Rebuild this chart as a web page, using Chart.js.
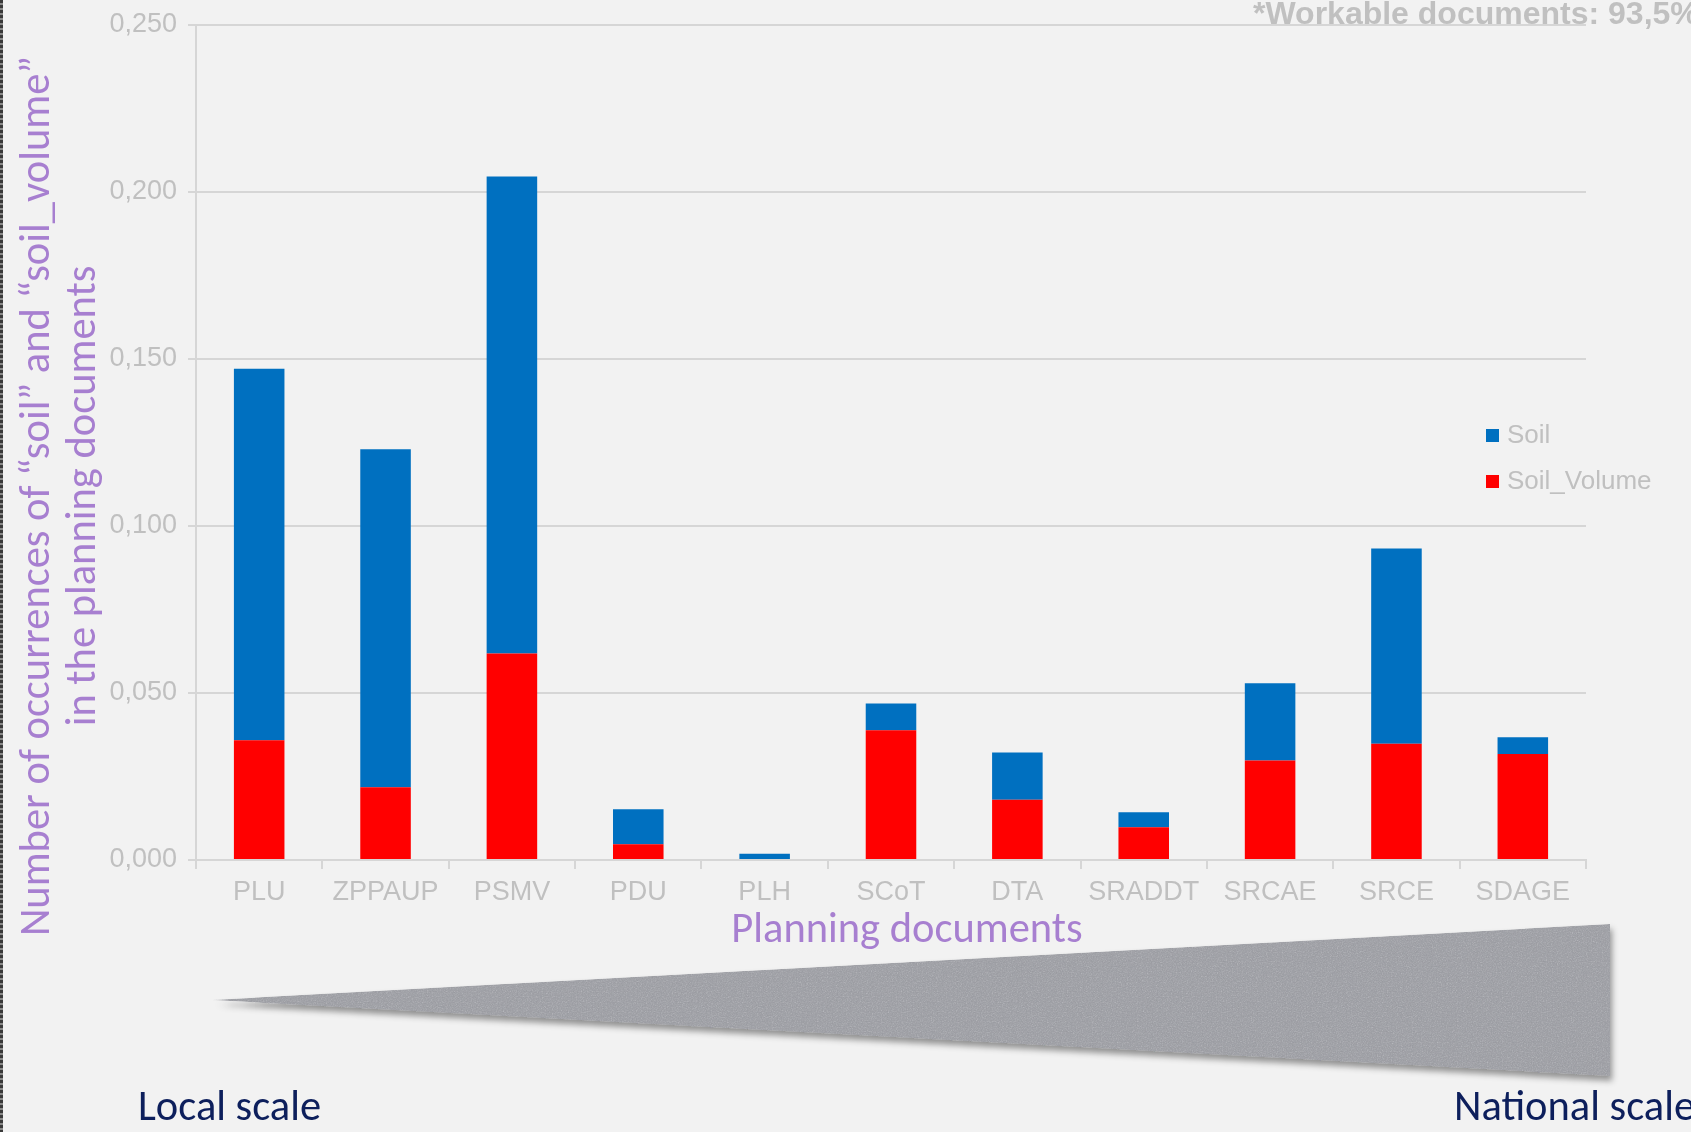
<!DOCTYPE html>
<html>
<head>
<meta charset="utf-8">
<title>Soil occurrences in planning documents</title>
<script src="https://cdn.jsdelivr.net/npm/chart.js@4.4.1/dist/chart.umd.min.js"></script>
<style>
  html, body { margin:0; padding:0; background:#f2f2f2; overflow:hidden; }
  #wrap { position:relative; width:1691px; height:1132px; overflow:hidden; }
  #chartBox { position:absolute; left:0; top:0; width:1691px; height:1132px; }
  .txt { position:absolute; white-space:nowrap; }
  .calib { font-family: Carlito, Lato, "Open Sans", sans-serif; font-size:42.5px; line-height:42px; }
  #yTitle { width:1000px; height:92px; left:-442px; top:450px; transform:rotate(-90deg);
            text-align:center; color:#a77fd0; line-height:46px; }
  #xTitle { left:0; width:1814px; text-align:center; top:907px; color:#a77fd0; }
  #note { left:1253px; top:-3px; font:bold 32px "Liberation Sans", Arial, sans-serif; line-height:32px; color:#c0c0c0; }
  .scaleLbl { top:1085px; color:#0d1f5c; }
  .leg { position:absolute; left:1486px; font:26px "Liberation Sans", Arial, sans-serif; color:#c0c0c0; line-height:26px; }
  .leg span { display:inline-block; width:13px; height:13px; margin-right:8px; vertical-align:1px; }
  #edge { position:absolute; left:0; top:0; width:3px; height:1132px;
          background:repeating-linear-gradient(to bottom,#3a3a3a 0 3px,#8a8a8a 3px 5px); }
  #tri { position:absolute; left:0; top:0; }
</style>
</head>
<body>
<div id="wrap">
  <svg id="tri" width="1691" height="1132">
    <defs>
      <filter id="grain" x="-5%" y="-20%" width="110%" height="140%">
        <feTurbulence type="fractalNoise" baseFrequency="0.8" numOctaves="2" result="n"/>
        <feColorMatrix in="n" type="saturate" values="0" result="g"/>
        <feComposite in="SourceGraphic" in2="g" operator="arithmetic" k1="0" k2="1" k3="0.3" k4="-0.13" result="mix"/>
        <feComposite in="mix" in2="SourceGraphic" operator="in" result="tex"/>
        <feDropShadow dx="2" dy="5" stdDeviation="3" flood-color="#000" flood-opacity="0.4"/>
      </filter>
    </defs>
    <polygon points="212,1000 1610,924 1610,1076" fill="#acadb2" filter="url(#grain)"/>
  </svg>
  <div id="chartBox"><canvas id="soilChart"></canvas></div>
  <div id="edge"></div>
  <div id="yTitle" class="txt calib">Number of occurrences of “soil” and “soil_volume”<br>in the planning documents</div>
  <div id="xTitle" class="txt calib">Planning documents</div>
  <div id="note" class="txt">*Workable documents: 93,5%</div>
  <div class="txt calib scaleLbl" style="left:138px">Local scale</div>
  <div class="txt calib scaleLbl" style="left:1454px">National scale</div>
  <div id="legend"></div>
</div>

<script>
// =====================
// Data
// =====================
const categories = ['PLU','ZPPAUP','PSMV','PDU','PLH','SCoT','DTA','SRADDT','SRCAE','SRCE','SDAGE'];
// bottom segment
const soilVolume = [0.0358, 0.0218, 0.0618, 0.0047, 0, 0.0388, 0.0180, 0.0098, 0.0298, 0.0348, 0.0317];
// top segment (stacked on soil_volume)
const soil = [0.1112, 0.1011, 0.1427, 0.0105, 0.0019, 0.0080, 0.0142, 0.0045, 0.0231, 0.0584, 0.0050];
const yTicks = [0, 0.05, 0.10, 0.15, 0.20, 0.25];

const BLUE = '#0070c0';
const RED = '#ff0000';
const GREY_TXT = '#c0c0c0';
const GRID = '#d6d6d6';

// =====================
// Chart
// =====================
const ctx = document.getElementById('soilChart');
const chart = new Chart(ctx, {
  type: 'bar',
  data: {
    labels: categories,
    datasets: [
      { label:'Soil_Volume', data:soilVolume, backgroundColor:RED, barPercentage:0.4, categoryPercentage:1 },
      { label:'Soil', data:soil, backgroundColor:BLUE, barPercentage:0.4, categoryPercentage:1 }
    ]
  },
  options: {
    responsive: true,
    maintainAspectRatio: false,
    animation: false,
    layout: { padding: { left:0, top:23, right:105, bottom:212 } },
    plugins: { legend:{ display:false }, tooltip:{ enabled:false } },
    scales: {
      x: {
        stacked: true,
        afterFit: s => { s.height = 60; },
        border: { color:GRID, width:2 },
        grid: { drawOnChartArea:false, drawTicks:true, tickLength:9, color:GRID, lineWidth:2 },
        ticks: { color:GREY_TXT, padding:7, font:{ family:'"Liberation Sans", Arial, sans-serif', size:27 } }
      },
      y: {
        stacked: true,
        min: 0, max: yTicks[yTicks.length-1],
        afterFit: s => { s.width = 196; },
        afterBuildTicks: s => { s.ticks = yTicks.map(v => ({ value:v })); },
        border: { color:GRID, width:2 },
        grid: { color:GRID, lineWidth:2, tickLength:8 },
        ticks: {
          color:GREY_TXT, padding:11,
          font:{ family:'"Liberation Sans", Arial, sans-serif', size:27, lineHeight:1 },
          callback: v => v.toFixed(3).replace('.', ',')
        }
      }
    }
  }
});

// legend built from the datasets (Soil first, like the original)
const legend = document.getElementById('legend');
[...chart.data.datasets].reverse().forEach((ds, i) => {
  const d = document.createElement('div');
  d.className = 'leg';
  d.style.top = (421 + i*46) + 'px';
  d.innerHTML = '<span style="background:' + ds.backgroundColor + '"></span>' + ds.label;
  legend.appendChild(d);
});
</script>
</body>
</html>
